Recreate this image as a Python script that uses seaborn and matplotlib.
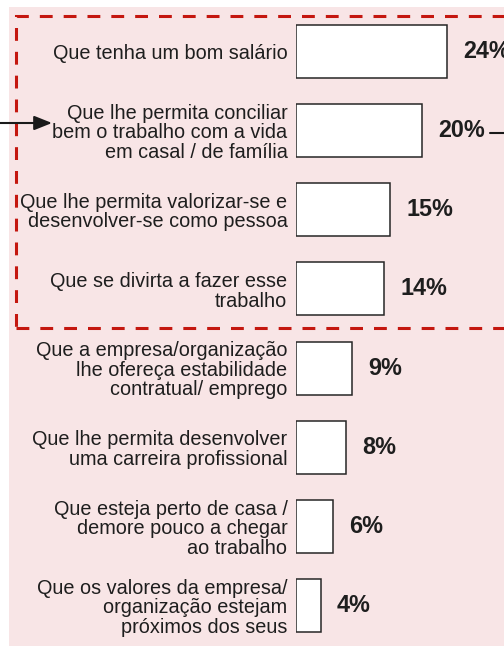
import matplotlib
matplotlib.use("Agg")
import matplotlib.pyplot as plt
import seaborn as sns
import pandas as pd
from matplotlib.patches import Rectangle, FancyArrowPatch
from matplotlib.lines import Line2D

categories = [
    "Que tenha um bom salário",
    "Que lhe permita conciliar\nbem o trabalho com a vida\nem casal / de família",
    "Que lhe permita valorizar-se e\ndesenvolver-se como pessoa",
    "Que se divirta a fazer esse\ntrabalho",
    "Que a empresa/organização\nlhe ofereça estabilidade\ncontratual/ emprego",
    "Que lhe permita desenvolver\numa carreira profissional",
    "Que esteja perto de casa /\ndemore pouco a chegar\nao trabalho",
    "Que os valores da empresa/\norganização estejam\npróximos dos seus",
]
values = [24, 20, 15, 14, 9, 8, 6, 4]
value_labels = ["24%", "20%", "15%", "14%", "9%", "8%", "6%", "4%"]

sns.set_theme(style="white")
plt.rcParams["font.family"] = ["Liberation Sans", "DejaVu Sans"]

W, H = 504, 646
fig = plt.figure(figsize=(W / 100, H / 100), dpi=100)
fig.patch.set_facecolor("white")

# pink panel
fig.patches.append(Rectangle((9 / W, 0), 1.0, 1 - 7 / H, transform=fig.transFigure,
                             facecolor="#f8e5e6", edgecolor="none", zorder=-2))
# dashed highlight box
x0, y0 = 15.5 / W, 1 - 328 / H
fig.patches.append(Rectangle((x0, y0), 1.1, (328 - 15.5) / H, transform=fig.transFigure,
                             facecolor="none", edgecolor="#c4170f", linewidth=2.2,
                             linestyle=(0, (4.2, 3.6)), zorder=-1))

ax = fig.add_axes([295.5 / W, 0, 1 - 295.5 / W, 1])
ax.set_zorder(2)
ax.patch.set_visible(False)
df = pd.DataFrame({"cat": categories, "val": values})
sns.barplot(data=df, x="val", y="cat", orient="h", color="white",
            edgecolor="#262626", linewidth=1.1, width=0.67, saturation=1, ax=ax)
for p in ax.patches:
    p.set_facecolor("white")

px_per_unit = 6.33
ax.set_xlim(0, (W - 295.5) / px_per_unit)
pitch = 79.14
c0 = 51.5
ax.set_ylim((H - c0) / pitch, -c0 / pitch)

ax.bar_label(ax.containers[0], labels=value_labels, padding=11.5,
             fontsize=16.8, fontweight="bold", color="#1e1e1e")

ax.set_xlabel("")
ax.set_ylabel("")
ax.set_xticks([])
ax.tick_params(axis="y", length=0, pad=5.8)
for lab in ax.get_yticklabels():
    lab.set_fontsize(14.3)
    lab.set_color("#1e1e1e")
    lab.set_linespacing(1.04)
sns.despine(ax=ax, left=True, bottom=True)

# arrow pointing at the second item
yA = 1 - 123 / H
fig.add_artist(FancyArrowPatch(
    (0, yA), (52 / W, yA), transform=fig.transFigure,
    arrowstyle="-|>,head_length=0.8,head_width=0.32", mutation_scale=13.5,
    color="#1a1a1a", linewidth=1.5, shrinkA=0, shrinkB=0, zorder=5))
yB = 1 - 133 / H
fig.add_artist(Line2D([490 / W, 1.0], [yB, yB], transform=fig.transFigure,
                      color="#1a1a1a", linewidth=1.5, zorder=5))

fig.savefig("out.png", dpi=100)
